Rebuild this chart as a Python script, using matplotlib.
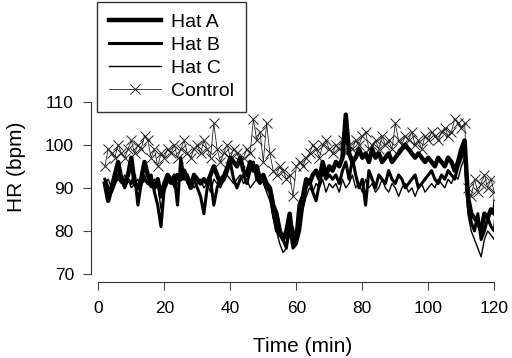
import numpy as np
import matplotlib
matplotlib.use("Agg")
import matplotlib.pyplot as plt

plt.rcParams["font.family"] = ["Liberation Sans", "DejaVu Sans"]

# time in minutes, one reading per minute
time_min = list(range(2, 122))

hat_a = [91, 87, 90, 93, 96, 92, 91, 93, 97, 91,
         90, 92, 96, 93, 91, 90, 92, 88, 91, 93,
         92, 91, 93, 92, 94, 92, 90, 93, 92, 91,
         92, 91, 93, 95, 93, 91, 92, 94, 97, 96,
         95, 97, 94, 93, 96, 94, 95, 92, 93, 91,
         90, 86, 84, 80, 78, 80, 84, 77, 78, 86,
         88, 92, 91, 93, 94, 92, 96, 93, 95, 94,
         96, 95, 97, 107, 98, 96, 97, 99, 97, 98,
         96, 99, 97, 98, 96, 97, 98, 96, 97, 98,
         99, 100, 99, 98, 97, 98, 97, 96, 97, 96,
         95, 97, 96, 95, 97, 96, 94, 96, 99, 101,
         88, 84, 83, 82, 80, 84, 83, 85, 84, 92]

hat_b = [92, 90, 89, 91, 93, 92, 90, 92, 91, 93,
         86, 91, 92, 91, 93, 89, 86, 81, 90, 92,
         91, 93, 86, 97, 92, 93, 91, 92, 90, 88,
         84, 90, 92, 86, 90, 92, 93, 95, 96, 92,
         90, 92, 93, 91, 94, 96, 92, 91, 92, 90,
         89, 84, 80, 79, 78, 76, 82, 76, 77, 80,
         86, 90, 92, 89, 87, 91, 94, 92, 93, 92,
         93, 91, 94, 96, 92, 97, 93, 90, 92, 86,
         94, 92, 90, 93, 92, 91, 94, 92, 91, 93,
         92, 90, 91, 92, 93, 90, 91, 92, 93, 94,
         92, 91, 93, 92, 94, 93, 92, 95, 97, 99,
         86, 82, 80, 84, 78, 80, 83, 81, 80, 88]

hat_c = [91, 92, 90, 91, 92, 91, 93, 92, 90, 91,
         92, 90, 93, 91, 90, 92, 91, 85, 89, 91,
         92, 90, 91, 92, 93, 91, 92, 90, 91, 92,
         90, 91, 89, 92, 91, 90, 92, 93, 92, 91,
         92, 93, 91, 92, 90, 91, 92, 93, 91, 89,
         87, 83, 80, 77, 75, 76, 79, 81, 78, 82,
         85, 88, 90, 89, 91, 90, 92, 89, 91, 90,
         91, 89, 92, 90, 91, 93, 90, 91, 89, 92,
         90, 91, 89, 90, 92, 90, 89, 91, 90, 88,
         90, 91, 89, 90, 88, 90, 91, 89, 90, 91,
         90, 92, 91, 90, 92, 91, 93, 92, 95, 97,
         84, 80, 78, 76, 74, 78, 80, 79, 78, 86]

control = [95, 99, 98, 97, 100, 98, 97, 99, 101, 98,
           100, 99, 102, 101, 97, 99, 95, 98, 97, 99,
           98, 100, 97, 99, 101, 98, 97, 99, 100, 98,
           101, 99, 97, 105, 99, 96, 98, 100, 97, 99,
           98, 96, 97, 99, 98, 106, 101, 103, 96, 105,
           98, 94, 93, 95, 94, 92, 93, 88, 95, 96,
           95, 97, 98, 100, 99, 97, 100, 101, 99, 98,
           100, 99, 101, 98, 100, 99, 101, 100, 102, 103,
           99, 100, 101, 99, 102, 100, 101, 99, 105, 101,
           100, 102, 101, 103, 100, 101, 99, 102, 101, 103,
           102, 101, 103, 104, 102, 103, 106, 105, 104, 105,
           90, 88, 92, 89, 91, 93, 90, 92, 89, 88]

x_ticks = [0, 20, 40, 60, 80, 100, 120]
y_ticks = [70, 80, 90, 100, 110]

fig = plt.figure(figsize=(5.12, 3.58), dpi=100)
ax = fig.add_axes([98.3 / 512, 84 / 358, 396 / 512, 172.3 / 358])

l_ctrl, = ax.plot(time_min, control, color="#222222", lw=0.6, marker="x",
                  ms=7, mew=0.7, label="Control")
l_c, = ax.plot(time_min, hat_c, color="black", lw=1.0, label="Hat C")
l_b, = ax.plot(time_min, hat_b, color="black", lw=2.2, label="Hat B")
l_a, = ax.plot(time_min, hat_a, color="black", lw=3.2, label="Hat A")

ax.set_xlim(0, 120)
ax.set_ylim(70, 110)
ax.set_xticks(x_ticks)
ax.set_yticks(y_ticks)

for side in ("top", "right"):
    ax.spines[side].set_visible(False)
ax.spines["left"].set_position(("outward", 5.5))
ax.spines["bottom"].set_position(("outward", 5.5))
for side in ("left", "bottom"):
    ax.spines[side].set_linewidth(0.8)
    ax.spines[side].set_color("#333333")

ax.tick_params(axis="y", length=6, width=0.8, color="#444444", pad=6,
               labelsize=12.5)
ax.tick_params(axis="x", length=6, width=0.8, color="#444444", pad=8,
               labelsize=12.5)

ax.set_xlabel("Time (min)", fontsize=15)
ax.xaxis.set_label_coords(0.516, -0.365)
ax.xaxis.label.set_va("top")
ax.set_ylabel("HR (bpm)", fontsize=15)
ax.yaxis.set_label_coords(-0.183, 0.624)

leg = fig.legend([l_a, l_b, l_c, l_ctrl], ["Hat A", "Hat B", "Hat C", "Control"],
                 loc="upper left", bbox_to_anchor=(97 / 512, 1 - 2 / 358),
                 fontsize=14, frameon=True, fancybox=False, shadow=False,
                 handlelength=2.7, handletextpad=0.5, borderpad=0.6,
                 labelspacing=0.27, borderaxespad=0)
leg.get_frame().set_edgecolor("black")
leg.get_frame().set_linewidth(1.0)

fig.savefig("out.png", dpi=100)
